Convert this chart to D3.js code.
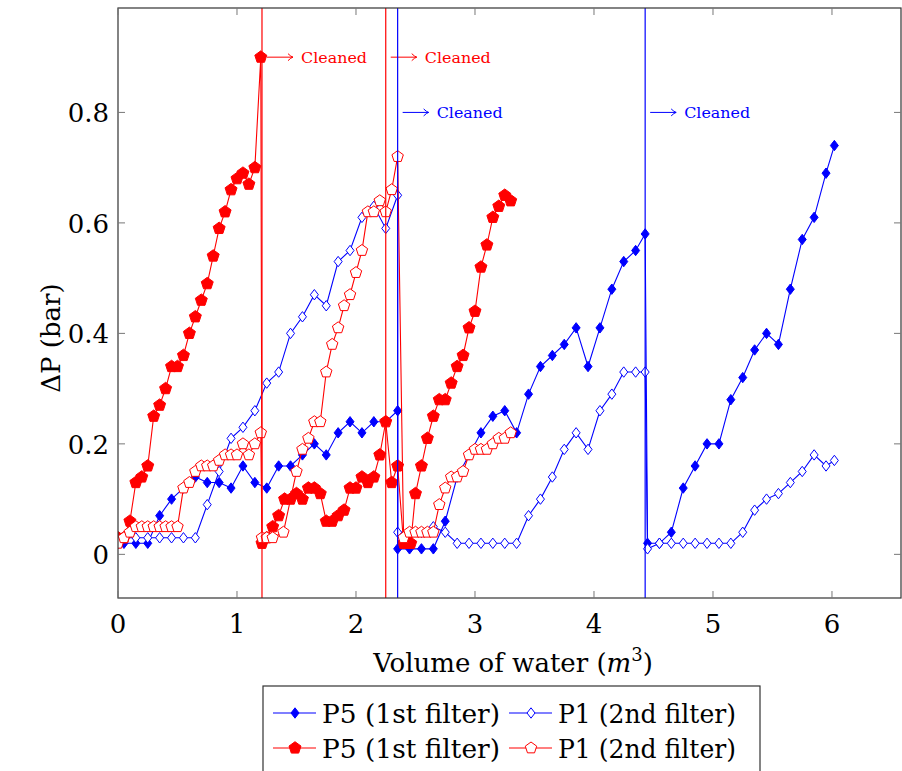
<!DOCTYPE html>
<html>
<head>
<meta charset="utf-8">
<script src="https://cdn.jsdelivr.net/npm/d3@7"></script>
<style>
  body { margin: 0; background: #fff; }
  svg { display: block; }
  text { font-family: "DejaVu Serif", serif; }
</style>
</head>
<body>
<svg id="chart"></svg>
<script>
// blue, 1st filter (P5) - filled diamonds
const p5BlueX = [0, 0.05, 0.15, 0.25, 0.35, 0.45, 0.55, 0.65, 0.75, 0.85, 0.95, 1.05, 1.15, 1.25, 1.35, 1.45, 1.55, 1.65, 1.75, 1.85, 1.95, 2.05, 2.15, 2.25, 2.35,
  2.35, 2.45, 2.55, 2.65, 2.75, 2.85, 2.95, 3.05, 3.15, 3.25, 3.35, 3.45, 3.55, 3.65, 3.75, 3.85, 3.95, 4.05, 4.15, 4.25, 4.35, 4.43,
  4.45, 4.55, 4.65, 4.75, 4.85, 4.95, 5.05, 5.15, 5.25, 5.35, 5.45, 5.55, 5.65, 5.75, 5.85, 5.95, 6.02];
const p5BlueY = [0.02, 0.02, 0.02, 0.02, 0.07, 0.10, 0.12, 0.14, 0.13, 0.13, 0.12, 0.16, 0.13, 0.12, 0.16, 0.16, 0.18, 0.20, 0.18, 0.22, 0.24, 0.22, 0.24, 0.24, 0.26,
  0.01, 0.01, 0.01, 0.01, 0.06, 0.14, 0.18, 0.22, 0.25, 0.26, 0.22, 0.29, 0.34, 0.36, 0.38, 0.41, 0.34, 0.41, 0.48, 0.53, 0.55, 0.58,
  0.02, 0.02, 0.04, 0.12, 0.16, 0.20, 0.20, 0.28, 0.32, 0.37, 0.40, 0.38, 0.48, 0.57, 0.61, 0.69, 0.74];

// blue, 2nd filter (P1) - open diamonds
const p1BlueX = [0, 0.05, 0.15, 0.25, 0.35, 0.45, 0.55, 0.65, 0.75, 0.85, 0.95, 1.05, 1.15, 1.25, 1.35, 1.45, 1.55, 1.65, 1.75, 1.85, 1.95, 2.05, 2.15, 2.25, 2.35,
  2.35, 2.45, 2.55, 2.65, 2.75, 2.85, 2.95, 3.05, 3.15, 3.25, 3.35, 3.45, 3.55, 3.65, 3.75, 3.85, 3.95, 4.05, 4.15, 4.25, 4.35, 4.43,
  4.45, 4.55, 4.65, 4.75, 4.85, 4.95, 5.05, 5.15, 5.25, 5.35, 5.45, 5.55, 5.65, 5.75, 5.85, 5.95, 6.02];
const p1BlueY = [0.02, 0.03, 0.03, 0.03, 0.03, 0.03, 0.03, 0.03, 0.09, 0.15, 0.21, 0.23, 0.26, 0.31, 0.33, 0.40, 0.43, 0.47, 0.45, 0.53, 0.55, 0.61, 0.63, 0.59, 0.65,
  0.04, 0.04, 0.04, 0.05, 0.04, 0.02, 0.02, 0.02, 0.02, 0.02, 0.02, 0.07, 0.10, 0.14, 0.19, 0.22, 0.19, 0.26, 0.29, 0.33, 0.33, 0.33,
  0.01, 0.02, 0.02, 0.02, 0.02, 0.02, 0.02, 0.02, 0.04, 0.08, 0.10, 0.11, 0.13, 0.15, 0.18, 0.16, 0.17];

// red, 1st filter (P5) - filled pentagons
const p5RedX = [0, 0.05, 0.1, 0.15, 0.2, 0.25, 0.3, 0.35, 0.4, 0.45, 0.5, 0.55, 0.6, 0.65, 0.7, 0.75, 0.8, 0.85, 0.9, 0.95, 1.0, 1.05, 1.1, 1.15, 1.2,
  1.21, 1.25, 1.3, 1.35, 1.4, 1.45, 1.5, 1.55, 1.6, 1.65, 1.7, 1.75, 1.8, 1.85, 1.9, 1.95, 2.0, 2.05, 2.1, 2.15, 2.2, 2.25, 2.3, 2.35,
  2.4, 2.43, 2.46, 2.5, 2.55, 2.6, 2.65, 2.7, 2.75, 2.8, 2.85, 2.9, 2.95, 3.0, 3.05, 3.1, 3.15, 3.2, 3.25, 3.3];
const p5RedY = [0.03, 0.03, 0.06, 0.13, 0.14, 0.16, 0.25, 0.27, 0.30, 0.34, 0.34, 0.36, 0.40, 0.43, 0.46, 0.49, 0.54, 0.59, 0.62, 0.66, 0.68, 0.69, 0.67, 0.70, 0.90,
  0.02, 0.03, 0.05, 0.07, 0.10, 0.10, 0.11, 0.10, 0.12, 0.12, 0.11, 0.06, 0.06, 0.07, 0.08, 0.12, 0.12, 0.14, 0.13, 0.14, 0.18, 0.24, 0.13, 0.16,
  0.02, 0.02, 0.02, 0.11, 0.16, 0.21, 0.25, 0.28, 0.28, 0.31, 0.34, 0.36, 0.41, 0.44, 0.52, 0.56, 0.61, 0.63, 0.65, 0.64];

// red, 2nd filter (P1) - open pentagons
const p1RedX = [0, 0.05, 0.1, 0.15, 0.2, 0.25, 0.3, 0.35, 0.4, 0.45, 0.5, 0.55, 0.6, 0.65, 0.7, 0.75, 0.8, 0.85, 0.9, 0.95, 1.0, 1.05, 1.1, 1.15, 1.2,
  1.21, 1.25, 1.3, 1.39, 1.5, 1.55, 1.6, 1.65, 1.7, 1.75, 1.8, 1.85, 1.9, 1.95, 2.0, 2.05, 2.1, 2.15, 2.2, 2.25, 2.3, 2.35,
  2.4, 2.45, 2.5, 2.55, 2.6, 2.65, 2.7, 2.75, 2.8, 2.85, 2.9, 2.95, 3.0, 3.05, 3.1, 3.15, 3.2, 3.25, 3.3];
const p1RedY = [0.02, 0.03, 0.04, 0.05, 0.05, 0.05, 0.05, 0.05, 0.05, 0.05, 0.05, 0.12, 0.13, 0.15, 0.16, 0.16, 0.16, 0.17, 0.18, 0.18, 0.18, 0.20, 0.18, 0.20, 0.22,
  0.03, 0.03, 0.03, 0.04, 0.15, 0.19, 0.21, 0.24, 0.24, 0.33, 0.38, 0.41, 0.45, 0.47, 0.51, 0.55, 0.62, 0.62, 0.64, 0.62, 0.66, 0.72,
  0.03, 0.04, 0.04, 0.04, 0.04, 0.04, 0.09, 0.12, 0.14, 0.14, 0.15, 0.18, 0.19, 0.19, 0.19, 0.20, 0.21, 0.21, 0.22];

// cleaning events
const cleanX = [1.21, 2.25, 2.35, 4.43];
const cleanY = [0.9, 0.9, 0.8, 0.8];
const cleanColor = ['#ff0000', '#ff0000', '#0000ff', '#0000ff'];

const xTicks = [0, 1, 2, 3, 4, 5, 6];
const yTicks = [0, 0.2, 0.4, 0.6, 0.8];
const legendLabels = ['P5 (1st filter)', 'P1 (2nd filter)', 'P5 (1st filter)', 'P1 (2nd filter)'];

const W = 902, H = 771;
const margin = { left: 118, right: 1, top: 8, bottom: 173 };
const svg = d3.select('#chart').attr('width', W).attr('height', H);

const x = d3.scaleLinear().domain([0, 6.58]).range([margin.left, W - margin.right]);
const y = d3.scaleLinear().domain([-0.079, 0.989]).range([H - margin.bottom, margin.top]);

const zip = (xs, ys) => xs.map((v, i) => [v, ys[i]]);

// marker shapes
function diamondPath(w, h) {
  return `M0,${-h}L${w},0L0,${h}L${-w},0Z`;
}
function pentagonPath(r) {
  const pts = d3.range(5).map(i => {
    const a = -Math.PI / 2 + i * 2 * Math.PI / 5;
    return [r * Math.cos(a), r * Math.sin(a)];
  });
  return 'M' + pts.map(p => p[0].toFixed(2) + ',' + p[1].toFixed(2)).join('L') + 'Z';
}

const series = [
  { data: zip(p5BlueX, p5BlueY), color: '#0000ff', mark: diamondPath(4, 5.2), filled: true },
  { data: zip(p1BlueX, p1BlueY), color: '#0000ff', mark: diamondPath(4, 5.2), filled: false },
  { data: zip(p5RedX, p5RedY), color: '#ff0000', mark: pentagonPath(6.3), filled: true },
  { data: zip(p1RedX, p1RedY), color: '#ff0000', mark: pentagonPath(6), filled: false }
];

const plot = svg.append('g');
plot.append('clipPath').attr('id', 'clip')
  .append('rect')
  .attr('x', margin.left).attr('y', margin.top)
  .attr('width', W - margin.left - margin.right)
  .attr('height', H - margin.top - margin.bottom);

const line = d3.line().x(d => x(d[0])).y(d => y(d[1]));

series.forEach(s => {
  const g = plot.append('g').attr('clip-path', 'url(#clip)');
  g.append('path')
    .attr('d', line(s.data))
    .attr('fill', 'none')
    .attr('stroke', s.color)
    .attr('stroke-width', 1.1);
  g.selectAll('path.mark')
    .data(s.data)
    .enter().append('path')
    .attr('class', 'mark')
    .attr('d', s.mark)
    .attr('transform', d => `translate(${x(d[0])},${y(d[1])})`)
    .attr('fill', s.filled ? s.color : '#fff')
    .attr('stroke', s.color)
    .attr('stroke-width', 1);
});

// cleaning lines and labels
cleanX.forEach((cx, i) => {
  const px = x(cx), py = y(cleanY[i]), c = cleanColor[i];
  plot.append('line')
    .attr('x1', px).attr('x2', px)
    .attr('y1', margin.top).attr('y2', H - margin.bottom)
    .attr('stroke', c).attr('stroke-width', 1.2);
  const a0 = px + 5, a1 = px + 31;
  plot.append('line')
    .attr('x1', a0).attr('x2', a1).attr('y1', py).attr('y2', py)
    .attr('stroke', c).attr('stroke-width', 1);
  plot.append('path')
    .attr('d', `M${a1 - 5},${py - 3.5}Q${a1 - 2},${py - 0.5} ${a1},${py}Q${a1 - 2},${py + 0.5} ${a1 - 5},${py + 3.5}`)
    .attr('fill', 'none').attr('stroke', c).attr('stroke-width', 1);
  plot.append('text')
    .attr('x', a1 + 8).attr('y', py + 5.5)
    .attr('fill', c)
    .style('font-size', '15px')
    .attr('textLength', 66).attr('lengthAdjust', 'spacingAndGlyphs')
    .text('Cleaned');
});

// frame
svg.append('rect')
  .attr('x', margin.left).attr('y', margin.top)
  .attr('width', W - margin.left - margin.right)
  .attr('height', H - margin.top - margin.bottom)
  .attr('fill', 'none').attr('stroke', '#333').attr('stroke-width', 1.2);

const tickLen = 7;
const ticks = svg.append('g').attr('stroke', '#777').attr('stroke-width', 1);
xTicks.forEach(t => {
  ticks.append('line').attr('x1', x(t)).attr('x2', x(t)).attr('y1', H - margin.bottom).attr('y2', H - margin.bottom - tickLen);
  ticks.append('line').attr('x1', x(t)).attr('x2', x(t)).attr('y1', margin.top).attr('y2', margin.top + tickLen);
});
yTicks.forEach(t => {
  ticks.append('line').attr('y1', y(t)).attr('y2', y(t)).attr('x1', margin.left).attr('x2', margin.left + tickLen);
  ticks.append('line').attr('y1', y(t)).attr('y2', y(t)).attr('x1', W - margin.right).attr('x2', W - margin.right - tickLen);
});

// tick labels
svg.append('g').selectAll('text')
  .data(xTicks).enter().append('text')
  .attr('x', d => x(d)).attr('y', H - margin.bottom + 35)
  .attr('text-anchor', 'middle')
  .style('font-size', '26px')
  .text(d => d);
svg.append('g').selectAll('text')
  .data(yTicks).enter().append('text')
  .attr('x', margin.left - 9).attr('y', d => y(d) + 10)
  .attr('text-anchor', 'end')
  .style('font-size', '26px')
  .text(d => d === 0 ? '0' : d.toFixed(1));

// axis labels
const xl = svg.append('text')
  .attr('x', 513).attr('y', 672)
  .attr('text-anchor', 'middle')
  .style('font-size', '26px');
xl.append('tspan').text('Volume of water (');
xl.append('tspan').style('font-style', 'italic').text('m');
xl.append('tspan').attr('dy', -11).style('font-size', '18px').text('3');
xl.append('tspan').attr('dy', 11).text(')');

svg.append('text')
  .attr('transform', 'translate(60,338) rotate(-90)')
  .attr('text-anchor', 'middle')
  .style('font-size', '26px')
  .text('ΔP (bar)');

// legend
const lg = svg.append('g');
lg.append('rect')
  .attr('x', 263).attr('y', 686).attr('width', 497).attr('height', 100)
  .attr('fill', '#fff').attr('stroke', '#333').attr('stroke-width', 1.2);
const legendPos = [[273, 713], [509, 713], [273, 748], [509, 748]];
series.forEach((s, i) => {
  const [lx, ly] = legendPos[i];
  lg.append('line')
    .attr('x1', lx).attr('x2', lx + 43).attr('y1', ly).attr('y2', ly)
    .attr('stroke', s.color).attr('stroke-width', 1.1);
  lg.append('path')
    .attr('d', s.mark)
    .attr('transform', `translate(${lx + 22},${ly})`)
    .attr('fill', s.filled ? s.color : '#fff')
    .attr('stroke', s.color).attr('stroke-width', 1);
  lg.append('text')
    .attr('x', lx + 49).attr('y', ly + 10)
    .style('font-size', '26px')
    .attr('textLength', 178).attr('lengthAdjust', 'spacingAndGlyphs')
    .text(legendLabels[i]);
});
</script>
</body>
</html>
